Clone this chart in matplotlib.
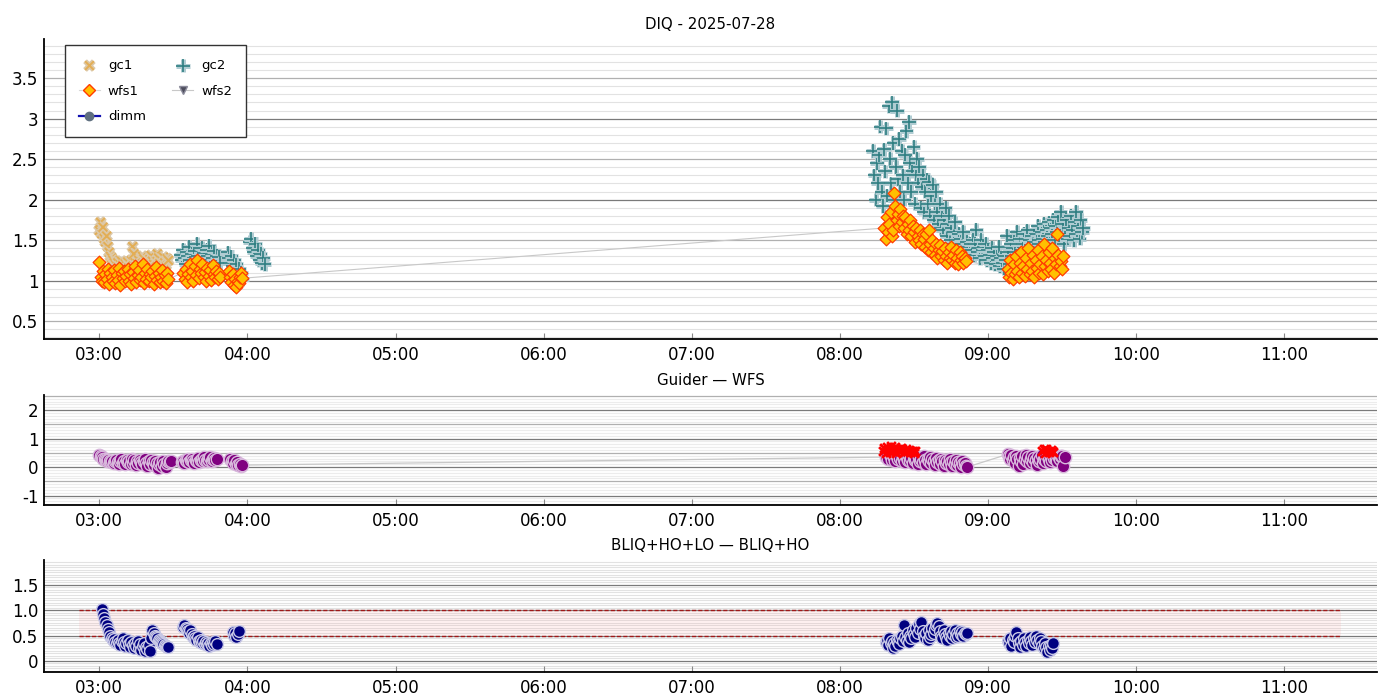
import matplotlib
matplotlib.use("Agg")
import matplotlib.pyplot as plt
import matplotlib.dates as mdates
import matplotlib.patheffects as pe
import numpy as np
import pandas as pd

DAY = "2025-07-28 "

# ---------------- top panel data (DIQ) ----------------
gc1_t = ("03:00", "03:28")
gc1_v = [1.62,1.72,1.58,1.66,1.52,1.48,1.55,1.42,1.35,1.30,1.28,1.25,1.22,1.20,1.18,1.22,1.17,1.20,1.24,1.19,
         1.15,1.21,1.18,1.23,1.16,1.20,1.25,1.42,1.33,1.22,1.18,1.21,1.25,1.19,1.23,1.30,1.27,1.20,1.24,1.18,
         1.22,1.26,1.31,1.24,1.20,1.19,1.25,1.33,1.28,1.21,1.17,1.24,1.29,1.22,1.19,1.27,1.25]

gc2_segs = [
    (("03:33", "03:49"), [1.32,1.25,1.38,1.28,1.20,1.35,1.30,1.42,1.26,1.33,1.22,1.37,1.29,1.45,1.31,1.24,1.36,
                          1.40,1.27,1.34,1.21,1.38,1.30,1.43,1.25,1.33,1.28,1.36,1.19,1.31,1.24,1.29,1.22]),
    (("03:52", "03:58"), [1.35,1.28,1.22,1.30,1.18,1.25,1.12,1.20,1.08,1.15,1.05,1.10,1.02]),
    (("04:01", "04:07"), [1.48,1.52,1.40,1.35,1.45,1.30,1.38,1.25,1.33,1.22,1.28,1.20]),
    (("08:13:30", "09:38:30"), [2.6,2.3,2.0,2.45,2.2,2.55,
                          2.9,2.1,1.92,2.62,2.35,2.88,2.05,3.15,
                          2.5,2.2,3.2,2.7,2.0,2.4,3.1,2.25,
                          2.75,2.1,2.6,2.3,2.0,2.55,2.85,2.2,
                          2.96,2.45,2.1,2.35,2.65,1.95,2.3,2.5,
                          2.2,2.4,1.9,2.15,2.3,1.85,2.1,2.25,
                          1.95,2.22,1.8,2.05,2.18,1.75,1.95,2.1,
                          1.85,1.7,1.95,1.65,1.8,1.62,1.75,1.9,
                          1.55,1.7,1.8,1.5,1.65,1.45,1.6,1.72,
                          1.5,1.42,1.58,1.38,1.52,1.45,1.6,1.4,
                          1.35,1.48,1.42,1.3,1.45,1.38,1.5,1.32,
                          1.45,1.63,1.35,1.4,1.28,1.5,1.38,1.42,
                          1.3,1.45,1.25,1.38,1.32,1.22,1.4,1.28,
                          1.35,1.2,1.3,1.25,1.42,1.18,1.28,1.22,
                          1.15,1.3,1.25,1.55,1.35,1.2,1.45,1.3,
                          1.4,1.5,1.35,1.6,1.45,1.3,1.52,1.38,
                          1.45,1.58,1.4,1.52,1.62,1.35,1.5,1.44,
                          1.55,1.48,1.62,1.42,1.58,1.68,1.5,1.45,
                          1.6,1.52,1.7,1.48,1.62,1.55,1.72,1.5,
                          1.65,1.58,1.75,1.5,1.68,1.6,1.78,1.55,
                          1.85,1.62,1.7,1.45,1.58,1.75,1.52,1.65,
                          1.55,1.8,1.62,1.5,1.72,1.85,1.58,1.68,1.52,1.75,1.6,1.65]),
]

wfs1_segs = [
    (("03:00", "03:28"), [1.23,1.05,1.00,1.12,0.98,1.08,1.02,1.15,0.96,1.10,1.04,1.00,1.13,0.97,1.07,1.01,1.16,0.95,
                          1.09,1.03,1.12,0.99,1.06,1.14,1.00,1.08,0.96,1.11,1.03,1.18,0.98,1.07,1.13,1.01,1.05,1.20,
                          0.97,1.10,1.02,1.15,0.99,1.08,1.04,1.12,0.96,1.06,1.17,1.01,1.09,0.98,1.04,1.13,1.00,1.07,
                          0.97,1.10,1.02]),
    (("03:34", "03:49"), [1.10,1.02,1.15,0.98,1.08,1.20,1.05,1.12,1.00,1.18,1.07,1.25,1.03,1.14,1.09,1.21,1.04,1.11,
                          0.99,1.16,1.06,1.13,1.01,1.19,1.08,1.05,1.12,1.02,1.09,1.04]),
    (("03:52:30", "03:58"), [1.12,1.05,0.98,1.08,0.95,1.02,0.92,1.00,0.97,1.04,1.10,1.03]),
    (("08:18", "08:51"), [1.65,1.52,1.78,1.60,1.70,1.85,1.55,1.62,
                          2.08,1.92,1.75,1.82,1.68,1.88,1.72,1.80,
                          1.65,1.78,1.58,1.70,1.62,1.75,1.55,1.68,
                          1.60,1.48,1.65,1.55,1.50,1.62,1.45,1.58,
                          1.52,1.42,1.58,1.38,1.63,1.45,1.35,1.50,
                          1.40,1.32,1.45,1.28,1.38,1.44,1.30,1.36,
                          1.25,1.40,1.30,1.22,1.35,1.28,1.42,1.25,
                          1.32,1.22,1.38,1.28,1.20,1.35,1.26,1.30,1.22,1.28,1.24]),
    (("09:08", "09:30:30"), [1.15,1.05,1.25,1.10,1.02,1.20,1.08,1.30,1.12,1.04,1.22,1.35,1.10,1.18,1.06,1.28,1.14,1.40,
                             1.08,1.22,1.12,1.32,1.05,1.25,1.16,1.38,1.10,1.20,1.30,1.08,1.45,1.18,1.26,1.12,1.35,1.22,
                             1.15,1.40,1.10,1.28,1.20,1.58,1.32,1.18,1.24,1.14,1.30]),
]

# ---------------- middle panel data (Guider - WFS) ----------------
gw_segs = [
    (("03:00", "03:29"), [0.42,0.38,0.35,0.30,0.28,0.25,0.22,0.24,0.20,0.18,0.22,0.15,0.20,0.25,0.18,0.12,0.22,0.28,
                          0.15,0.20,0.10,0.25,0.18,0.22,0.12,0.30,0.16,0.24,0.08,0.20,0.14,0.26,0.18,0.10,0.22,0.30,
                          0.15,0.05,0.20,0.12,0.25,0.18,0.08,0.22,0.15,-0.02,0.10,0.18,0.05,0.20,0.12,0.02,0.15,0.22,
                          0.18,0.20]),
    (("03:33:30", "03:47:30"), [0.18,0.22,0.15,0.25,0.20,0.28,0.18,0.24,0.30,0.20,0.16,0.26,0.22,0.32,0.18,0.25,0.28,
                                0.20,0.34,0.24,0.22,0.30,0.26,0.35,0.20,0.28,0.32,0.25,0.28]),
    (("03:53", "03:58"), [0.30,0.22,0.15,0.25,0.10,0.18,0.08,0.12,0.05,0.07]),
    (("08:18:30", "08:51:30"), [0.35,0.45,0.30,0.50,0.40,0.25,0.42,0.35,0.20,0.38,0.28,0.45,0.32,0.22,0.40,0.30,0.18,
                                0.35,0.25,0.42,0.20,0.32,0.15,0.38,0.26,0.30,0.12,0.35,0.22,0.28,0.18,0.40,0.25,0.10,
                                0.30,0.20,0.35,0.15,0.28,0.22,0.08,0.32,0.18,0.25,0.12,0.30,0.20,0.05,0.26,0.15,0.22,
                                0.10,0.28,0.18,0.05,0.20,0.12,0.25,0.08,0.18,0.15,0.02,0.20,0.10,0.15,0.05,0.00]),
    (("09:08", "09:31"), [0.45,0.38,0.30,0.42,0.25,0.35,0.15,0.40,0.28,0.05,0.32,0.20,0.38,0.10,0.30,0.42,0.22,0.35,
                          0.15,0.28,0.40,0.18,0.32,0.25,0.08,0.36,0.20,0.30,0.42,0.15,0.28,0.35,0.22,0.40,0.30,0.18,
                          0.38,0.25,0.32,0.42,0.28,0.20,0.35,0.30,0.40,0.38,0.05,0.35]),
]
gw_out_segs = [
    (("08:17:30", "08:30:30"), [0.55,0.68,0.48,0.72,0.60,0.52,0.75,0.62,0.58,0.70,0.50,0.65,0.60,0.55,0.68,0.62,0.52,
                                0.58,0.64,0.55,0.60,0.52,0.58,0.55,0.50,0.56]),
    (("09:22", "09:26:30"), [0.55,0.62,0.50,0.65,0.58,0.52,0.60,0.56,0.54]),
]

# ---------------- bottom panel data (BLIQ+HO+LO - BLIQ+HO) ----------------
bl_segs = [
    (("03:01", "03:20:30"), [1.02,0.92,0.84,0.76,0.70,0.63,0.57,0.50,0.45,0.41,0.43,0.38,0.35,0.42,0.36,0.32,0.40,0.45,
                             0.38,0.30,0.35,0.42,0.33,0.28,0.38,0.31,0.26,0.35,0.30,0.40,0.25,0.33,0.22,0.30,0.36,0.20,
                             0.28,0.24,0.32,0.20]),
    (("03:21", "03:28"), [0.45,0.60,0.55,0.50,0.48,0.45,0.42,0.40,0.38,0.35,0.33,0.32,0.30,0.28,0.27]),
    (("03:34", "03:47:30"), [0.67,0.70,0.64,0.62,0.58,0.55,0.60,0.52,0.48,0.50,0.45,0.42,0.47,0.40,0.38,0.42,0.36,0.40,
                             0.34,0.38,0.33,0.36,0.30,0.35,0.32,0.37,0.34,0.40,0.33]),
    (("03:54", "03:56:30"), [0.57,0.50,0.55,0.48,0.52,0.58]),
    (("08:18:30", "08:51:30"), [0.38,0.42,0.32,0.45,0.35,0.40,0.25,0.36,0.30,0.42,0.38,0.33,0.45,0.50,0.40,0.70,0.48,
                                0.42,0.55,0.38,0.50,0.45,0.60,0.52,0.48,0.65,0.55,0.72,0.62,0.76,0.58,0.50,0.45,0.55,
                                0.42,0.60,0.48,0.52,0.65,0.55,0.62,0.70,0.75,0.68,0.58,0.50,0.45,0.60,0.52,0.48,0.42,
                                0.55,0.50,0.58,0.45,0.52,0.60,0.48,0.55,0.50,0.58,0.52,0.56,0.50,0.55,0.53,0.55]),
    (("09:08", "09:26:30"), [0.40,0.35,0.45,0.30,0.42,0.38,0.50,0.57,0.45,0.35,0.28,0.40,0.32,0.45,0.38,0.30,0.42,0.35,
                             0.48,0.40,0.32,0.45,0.38,0.50,0.42,0.35,0.45,0.40,0.30,0.25,0.35,0.28,0.18,0.30,0.22,0.32,
                             0.25,0.35]),
]
band_lo, band_hi = 0.5, 1.0
band_span = ("02:51:50", "11:23")

titles = ["DIQ - 2025-07-28", "Guider \u2014 WFS", "BLIQ+HO+LO \u2014 BLIQ+HO"]
x_range = ("02:37:35", "11:37:35")


def seg_times(span, vals):
    return pd.date_range(DAY + span[0], DAY + span[1], periods=len(vals))


def concat(segs):
    t = np.concatenate([seg_times(s, v).values for s, v in segs])
    v = np.concatenate([np.asarray(v, float) for _, v in segs])
    return t, v


def ts(s):
    return pd.Timestamp(DAY + s)


fig = plt.figure(figsize=(14, 7), dpi=100)
L, R = 0.0314, 0.9836
ax1 = fig.add_axes([L, 0.5157, R - L, 0.944 - 0.5157])
ax2 = fig.add_axes([L, 0.2786, R - L, 0.4357 - 0.2786])
ax3 = fig.add_axes([L, 0.04, R - L, 0.2 - 0.04])


def grid(ax, lo, hi, fine, dark_step, mid_step=None, light="#e2e2e2"):
    for y in np.arange(np.ceil(lo / fine) * fine, hi, fine):
        y = round(y, 4)
        if abs(y / dark_step - round(y / dark_step)) < 1e-6:
            c, lw = "#7a7a7a", 0.9
        elif mid_step and abs(y / mid_step - round(y / mid_step)) < 1e-6:
            c, lw = "#b0b0b0", 0.9
        else:
            c, lw = light, 0.8
        ax.axhline(y, color=c, lw=lw, zorder=0)


for ax, t in zip([ax1, ax2, ax3], titles):
    ax.set_title(t, fontsize=10.8, pad=7)
    for s in ("top", "right"):
        ax.spines[s].set_visible(False)
    for s in ("left", "bottom"):
        ax.spines[s].set_linewidth(1.3)
    ax.set_xlim(ts(x_range[0]), ts(x_range[1]))
    ax.xaxis.set_major_locator(mdates.HourLocator())
    ax.xaxis.set_major_formatter(mdates.DateFormatter("%H:%M"))
    ax.tick_params(axis="x", direction="in", length=4, color="#888888", labelsize=12, pad=5)
    ax.tick_params(axis="y", length=0, labelsize=12, pad=4)

# ---- top panel
ax1.set_ylim(0.28, 3.98)
grid(ax1, 0.28, 3.98, 0.1, 1.0, 0.5)
ax1.set_yticks([0.5, 1, 1.5, 2, 2.5, 3, 3.5])
ax1.set_yticklabels(["0.5", "1", "1.5", "2", "2.5", "3", "3.5"])

t_gc1 = seg_times(gc1_t, gc1_v)
h_gc1 = ax1.scatter(t_gc1, gc1_v, marker="x", s=40, color="#e3ae55", linewidths=1.4, zorder=3,
                    path_effects=[pe.withStroke(linewidth=3.8, foreground="#dcc8a8")], label="gc1")
t_gc2, v_gc2 = concat(gc2_segs)
h_gc2 = ax1.scatter(t_gc2, v_gc2, marker="+", s=95, color="#2f7f82", linewidths=1.2, zorder=3,
                    path_effects=[pe.withStroke(linewidth=3.6, foreground="#b0ccd2")], label="gc2")
t_w1, v_w1 = concat(wfs1_segs)
ax1.plot(t_w1, v_w1, color="#c8c8c8", lw=0.8, zorder=2)
h_w1 = ax1.scatter(t_w1, v_w1, marker="D", s=42, facecolor="#ffc000", edgecolor="#ff3c00", linewidths=0.9,
                   zorder=4)
l_w1, = ax1.plot([], [], color="#d8d8d8", lw=0.8, marker="D", ms=6.5, mfc="#ffc000", mec="#ff3c00",
                 label="wfs1")
l_w2, = ax1.plot([], [], color="#c8c8c8", lw=0.8, marker="v", ms=6, mfc="#4c4c5c", mec="#8a8a9a",
                 label="wfs2")
l_dimm, = ax1.plot([], [], color="#1010b0", lw=1.6, marker="o", ms=6, mfc="#607080", mec="#607080",
                   label="dimm")
leg = ax1.legend(handles=[h_gc1, l_w1, l_dimm, h_gc2, l_w2], ncol=2, loc="upper left",
                 bbox_to_anchor=(0.0158, 0.98), borderaxespad=0, fontsize=9.5, frameon=True,
                 fancybox=False, framealpha=1, edgecolor="#333333", columnspacing=2.0,
                 handlelength=1.6, handletextpad=0.6, borderpad=1.05, labelspacing=0.95, scatterpoints=1)
leg.get_frame().set_linewidth(1.0)

# ---- middle panel
ax2.set_ylim(-1.33, 2.53)
grid(ax2, -1.33, 2.53, 0.1, 1.0, 0.5, light="#ececec")
ax2.set_yticks([-1, 0, 1, 2])
ax2.set_yticklabels(["-1", "0", "1", "2"])
t_gw, v_gw = concat(gw_segs)
ax2.plot(t_gw, v_gw, color="#c8c8c8", lw=0.9, zorder=2)
ax2.scatter(t_gw, v_gw, marker="o", s=80, facecolor="#800080", edgecolor="#d8b8dc", linewidths=1.0, zorder=3)
t_go, v_go = concat(gw_out_segs)
ax2.scatter(t_go, v_go, marker="x", s=40, color="#ff0000", linewidths=2.0, zorder=4)

# ---- bottom panel
ax3.set_ylim(-0.22, 1.99)
grid(ax3, -0.22, 1.99, 0.05, 0.5)
ax3.set_yticks([0, 0.5, 1.0, 1.5])
ax3.set_yticklabels(["0", "0.5", "1.0", "1.5"])
bx = [ts(band_span[0]), ts(band_span[1])]
ax3.fill_between(bx, band_lo, band_hi, color="#ff9090", alpha=0.12, lw=0, zorder=1)
ax3.plot(bx, [band_lo, band_lo], color="#a01818", lw=1.0, ls=(0, (3, 1.5)), zorder=2)
ax3.plot(bx, [band_hi, band_hi], color="#a01818", lw=1.0, ls=(0, (3, 1.5)), zorder=2)
t_bl, v_bl = concat(bl_segs)
ax3.scatter(t_bl, v_bl, marker="o", s=72, facecolor="#000080", edgecolor="#c8c8e6", linewidths=1.0, zorder=3)

fig.savefig("out.png", dpi=100)
